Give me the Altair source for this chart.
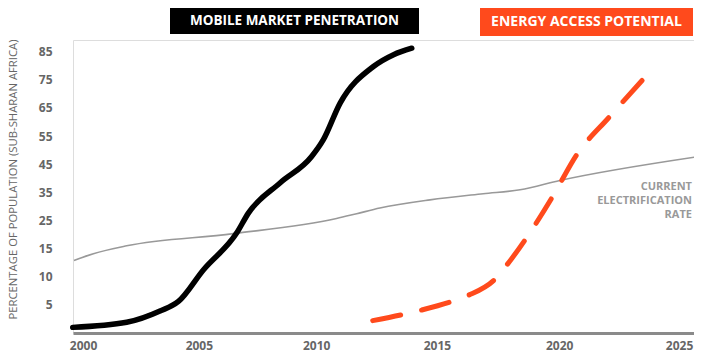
import altair as alt
import pandas as pd

# ---- data ----
mobile_year = [1999.57, 2001.82, 2003.21, 2003.98, 2005.02, 2006.41, 2006.90, 2008.22, 2009.54, 2010.03, 2010.73, 2012.12, 2012.96, 2013.72]
mobile_pct = [1.0, 1.9, 3.9, 5.6, 11.2, 20.5, 27.6, 38.3, 47.7, 53.7, 66.7, 79.7, 83.9, 86.2]

elec_year = [1999.62, 2000.43, 2001.82, 2006.27, 2010.58, 2011.42, 2012.39, 2014.48, 2016.70, 2018.24, 2019.90, 2025.54]
elec_pct = [12.9, 14.1, 16.0, 20.3, 25.7, 27.4, 29.4, 32.3, 34.5, 35.9, 39.2, 47.5]

energy_year = [2012.09, 2014.06, 2015.39, 2016.08, 2017.20, 2017.69, 2018.45, 2019.60, 2020.60, 2021.96, 2023.36]
energy_pct = [2.2, 4.0, 5.6, 6.7, 9.6, 12.1, 18.1, 33.5, 48.3, 61.7, 75.0]

x_ticks = [2000, 2005, 2010, 2015, 2020, 2025]
x_label_shift = [0, -4, -6.5, -5.5, -3, -3]
y_ticks = [5, 10, 15, 25, 35, 45, 55, 65, 75, 85]

title_mobile = "MOBILE MARKET PENETRATION"
title_energy = "ENERGY ACCESS POTENTIAL"
elec_label = ["CURRENT", "ELECTRIFICATION", "RATE"]
y_title = "PERCENTAGE  OF POPULATION (SUB-SHARAN AFRICA)"

# ---- layout ----
W = 621
H = 293
U = 28.14  # pixel step between y labels
FONT = "Open Sans"
ORANGE = "#FF4A1C"

mobile = pd.DataFrame({"year": mobile_year, "pct": mobile_pct})
elec = pd.DataFrame({"year": elec_year, "pct": elec_pct})
energy = pd.DataFrame({"year": energy_year, "pct": energy_pct})

xscale = alt.Scale(domain=[1999.58, 2025.5], nice=False, zero=False)
yscale = alt.Scale(domain=[0, 15, 85], range=[H, H - 3 * U, H - 10 * U], nice=False, zero=False)

label_offset = {
    "condition": [
        {"test": f"datum.value == {t}", "value": s}
        for t, s in zip(x_ticks, x_label_shift) if s != 0
    ],
    "value": 0,
}

x_enc = alt.X(
    "year:Q",
    scale=xscale,
    axis=alt.Axis(
        values=x_ticks, format="d", title=None, grid=False, ticks=False, tickSize=0,
        domainColor="#8a8a8a", domainWidth=3, labelPadding=7,
        labelFont=FONT, labelFontWeight="bold", labelFontSize=12, labelColor="#666666",
        labelOffset=label_offset,
    ),
)
y_enc = alt.Y(
    "pct:Q",
    scale=yscale,
    axis=alt.Axis(
        values=y_ticks, title=y_title, grid=False, ticks=False, tickSize=0, domain=False,
        labelPadding=21, labelFont=FONT, labelFontWeight="bold", labelFontSize=12,
        labelColor="#666666",
        titleFont=FONT, titleFontWeight="normal", titleFontSize=11.3, titleColor="#666666",
        titleAngle=270, titleX=-60, titleY=139, titleAlign="center", titleBaseline="middle",
        titleLimit=500,
    ),
)

elec_line = alt.Chart(elec).mark_line(color="#999999", strokeWidth=1.6, interpolate="monotone").encode(x=x_enc, y=y_enc)
mobile_line = alt.Chart(mobile).mark_line(color="#000000", strokeWidth=5.5, interpolate="monotone", strokeCap="round").encode(x=x_enc, y=y_enc)
energy_line = alt.Chart(energy).mark_line(
    color=ORANGE, strokeWidth=5, interpolate="monotone", strokeDash=[28.5, 21.5], strokeCap="round"
).encode(x=x_enc, y=y_enc)

box_black = alt.Chart(pd.DataFrame({"t": [title_mobile]})).mark_rect(color="#000000").encode(
    x=alt.value(97), x2=alt.value(346), y=alt.value(-32), y2=alt.value(-6)
)
txt_black = alt.Chart(pd.DataFrame({"t": [title_mobile]})).mark_text(
    color="white", font=FONT, fontWeight="bold", fontSize=13.5, align="center", baseline="middle"
).encode(x=alt.value(221.5), y=alt.value(-19), text="t:N")

box_orange = alt.Chart(pd.DataFrame({"t": [title_energy]})).mark_rect(color=ORANGE).encode(
    x=alt.value(407), x2=alt.value(620), y=alt.value(-33), y2=alt.value(-4)
)
txt_orange = alt.Chart(pd.DataFrame({"t": [title_energy]})).mark_text(
    color="white", font=FONT, fontWeight="bold", fontSize=14, align="center", baseline="middle"
).encode(x=alt.value(513.5), y=alt.value(-18.5), text="t:N")

lbl = alt.Chart(pd.DataFrame({"t": ["\n".join(elec_label)]})).mark_text(
    color="#999999", font=FONT, fontWeight="bold", fontSize=11, align="right", baseline="middle",
    lineBreak="\n", lineHeight=14,
).encode(x=alt.value(619), y=alt.value(147), text="t:N")

chart = alt.layer(
    elec_line, mobile_line, energy_line, box_black, txt_black, box_orange, txt_orange, lbl
).properties(
    width=W, height=H,
    autosize=alt.AutoSizeParams(type="none"),
    padding={"left": 65, "top": 32, "right": 0, "bottom": 19},
).configure_view(stroke=None).configure(background="white")

chart.save("out.html", embed_options={"renderer": "svg", "actions": False})
